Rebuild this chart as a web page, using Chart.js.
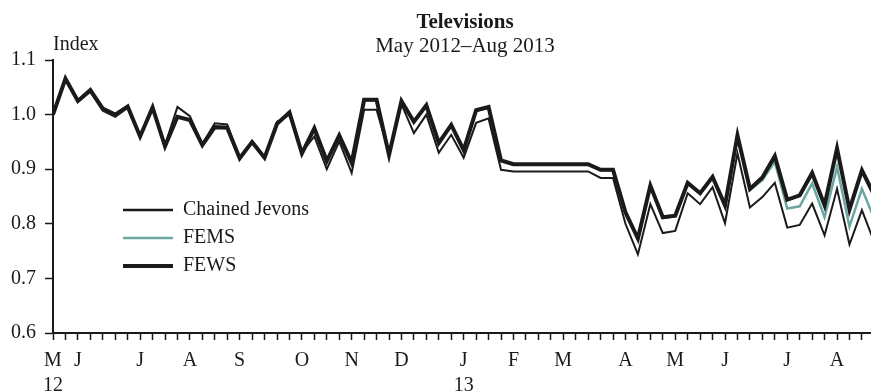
<!DOCTYPE html>
<html>
<head>
<meta charset="utf-8">
<script src="https://cdn.jsdelivr.net/npm/chart.js@4.4.1/dist/chart.umd.min.js"></script>
<style>
  html, body { margin: 0; padding: 0; background: #fff; }
  #wrap { width: 871px; height: 391px; position: relative; }
</style>
</head>
<body>
<div id="wrap"><canvas id="c" width="871" height="391"></canvas></div>
<script>
// Weekly price indices for televisions, week 0 = late May 2012
const chainedJevons = [
  1.000, 1.064, 1.023, 1.042, 1.007, 0.996, 1.012, 0.960, 1.012, 0.944,
  1.014, 0.997, 0.946, 0.984, 0.982, 0.918, 0.948, 0.922, 0.987, 1.000,
  0.931, 0.960, 0.900, 0.951, 0.893, 1.009, 1.009, 0.930, 1.019, 0.966,
  1.000, 0.930, 0.963, 0.921, 0.985, 0.993, 0.899, 0.896, 0.896, 0.896,
  0.896, 0.896, 0.896, 0.896, 0.884, 0.884, 0.800, 0.744, 0.836, 0.783,
  0.787, 0.856, 0.836, 0.867, 0.801, 0.929, 0.830, 0.849, 0.875, 0.793,
  0.798, 0.837, 0.779, 0.864, 0.762, 0.825, 0.766
];
const fems = [
  1.000, 1.065, 1.024, 1.044, 1.010, 0.999, 1.014, 0.960, 1.013, 0.942,
  0.997, 0.990, 0.944, 0.978, 0.977, 0.920, 0.950, 0.921, 0.984, 1.003,
  0.929, 0.974, 0.914, 0.961, 0.911, 1.026, 1.026, 0.926, 1.024, 0.986,
  1.016, 0.947, 0.980, 0.934, 1.007, 1.013, 0.915, 0.908, 0.908, 0.908,
  0.908, 0.908, 0.908, 0.908, 0.898, 0.898, 0.820, 0.772, 0.869, 0.811,
  0.814, 0.874, 0.855, 0.885, 0.830, 0.960, 0.862, 0.880, 0.914, 0.828,
  0.832, 0.874, 0.812, 0.904, 0.795, 0.864, 0.809
];
const fews = [
  1.000, 1.066, 1.025, 1.045, 1.011, 1.000, 1.015, 0.960, 1.013, 0.942,
  0.996, 0.990, 0.944, 0.977, 0.976, 0.920, 0.950, 0.921, 0.983, 1.004,
  0.929, 0.975, 0.915, 0.962, 0.912, 1.027, 1.027, 0.926, 1.025, 0.987,
  1.017, 0.948, 0.981, 0.935, 1.008, 1.014, 0.916, 0.909, 0.909, 0.909,
  0.909, 0.909, 0.909, 0.909, 0.899, 0.899, 0.821, 0.773, 0.870, 0.812,
  0.815, 0.875, 0.856, 0.886, 0.834, 0.962, 0.864, 0.885, 0.924, 0.844,
  0.852, 0.893, 0.834, 0.938, 0.826, 0.898, 0.852
];

// Month initials placed on the first week of each month
const monthWeeks  = [0, 2, 7, 11, 15, 20, 24, 28, 33, 37, 41, 46, 50, 54, 59, 63];
const monthLabels = ['M','J','J','A','S','O','N','D','J','F','M','A','M','J','J','A'];
const yearWeeks   = [0, 33];
const yearLabels  = ['12', '13'];

const yTicks = [0.6, 0.7, 0.8, 0.9, 1.0, 1.1];

const seriesNames  = ['Chained Jevons', 'FEMS', 'FEWS'];
const seriesColors = ['#1a1a1a', '#6aa7a0', '#1a1a1a'];
const seriesWidths = [2, 2.5, 4];

const FONT = "'Liberation Serif', 'Times New Roman', serif";
const INK = '#1a1a1a';

const toPoints = arr => arr.map((v, i) => ({ x: i, y: v }));
const seriesData = [chainedJevons, fems, fews];

function weekLabel(i) {
  const m = monthWeeks.indexOf(i);
  if (m < 0) return '';
  const y = yearWeeks.indexOf(i);
  return y >= 0 ? [monthLabels[m], yearLabels[y]] : monthLabels[m];
}

const decorations = {
  id: 'decorations',
  afterDraw(chart) {
    const ctx = chart.ctx;
    ctx.save();
    ctx.fillStyle = INK;
    ctx.textBaseline = 'alphabetic';
    ctx.textAlign = 'center';
    ctx.font = 'bold 21px ' + FONT;
    ctx.fillText('Televisions', 465, 28);
    ctx.font = '21px ' + FONT;
    ctx.fillText('May 2012\u2013Aug 2013', 465, 52);
    ctx.textAlign = 'left';
    ctx.font = '20px ' + FONT;
    ctx.fillText('Index', 53, 50);

    // legend
    const rows = [210, 238, 266];
    seriesNames.forEach((name, k) => {
      ctx.beginPath();
      ctx.strokeStyle = seriesColors[k];
      ctx.lineWidth = k === 2 ? 4 : 2.5;
      ctx.moveTo(123, rows[k]);
      ctx.lineTo(173, rows[k]);
      ctx.stroke();
      ctx.fillStyle = INK;
      ctx.textBaseline = 'middle';
      ctx.font = '20px ' + FONT;
      ctx.fillText(name, 183, rows[k]);
    });
    ctx.restore();
  }
};

new Chart(document.getElementById('c'), {
  type: 'line',
  data: {
    datasets: seriesNames.map((name, k) => ({
      label: name,
      data: toPoints(seriesData[k]),
      borderColor: seriesColors[k],
      borderWidth: seriesWidths[k],
      borderJoinStyle: 'miter',
      pointRadius: 0,
      tension: 0,
      fill: false,
      order: 2 - k
    }))
  },
  options: {
    responsive: false,
    animation: false,
    events: [],
    layout: { padding: { top: 60, right: 0, left: 0, bottom: 0 } },
    plugins: { legend: { display: false }, title: { display: false }, tooltip: { enabled: false } },
    scales: {
      x: {
        type: 'linear',
        min: 0,
        max: 65.73,
        afterFit(scale) { scale.height = 58; },
        afterBuildTicks(scale) {
          scale.ticks = chainedJevons.slice(0, 66).map((_, i) => ({ value: i }));
        },
        border: { display: true, color: INK, width: 2 },
        grid: { display: true, drawOnChartArea: false, drawTicks: true, tickLength: 7, tickWidth: 1.5, tickColor: INK, color: INK },
        ticks: {
          autoSkip: false,
          maxRotation: 0,
          padding: 8,
          color: INK,
          font: { family: FONT, size: 20, lineHeight: 1.25 },
          callback: v => weekLabel(v)
        }
      },
      y: {
        min: 0.6,
        max: 1.1,
        afterFit(scale) { scale.width = 53; },
        afterBuildTicks(scale) { scale.ticks = yTicks.map(v => ({ value: v })); },
        border: { display: true, color: INK, width: 2 },
        grid: { display: true, drawOnChartArea: false, drawTicks: true, tickLength: 8, tickWidth: 1.5, tickColor: INK, color: INK },
        ticks: {
          padding: 9,
          color: INK,
          font: { family: FONT, size: 20 },
          callback: v => Number(v).toFixed(1)
        }
      }
    }
  },
  plugins: [decorations]
});
</script>
</body>
</html>
